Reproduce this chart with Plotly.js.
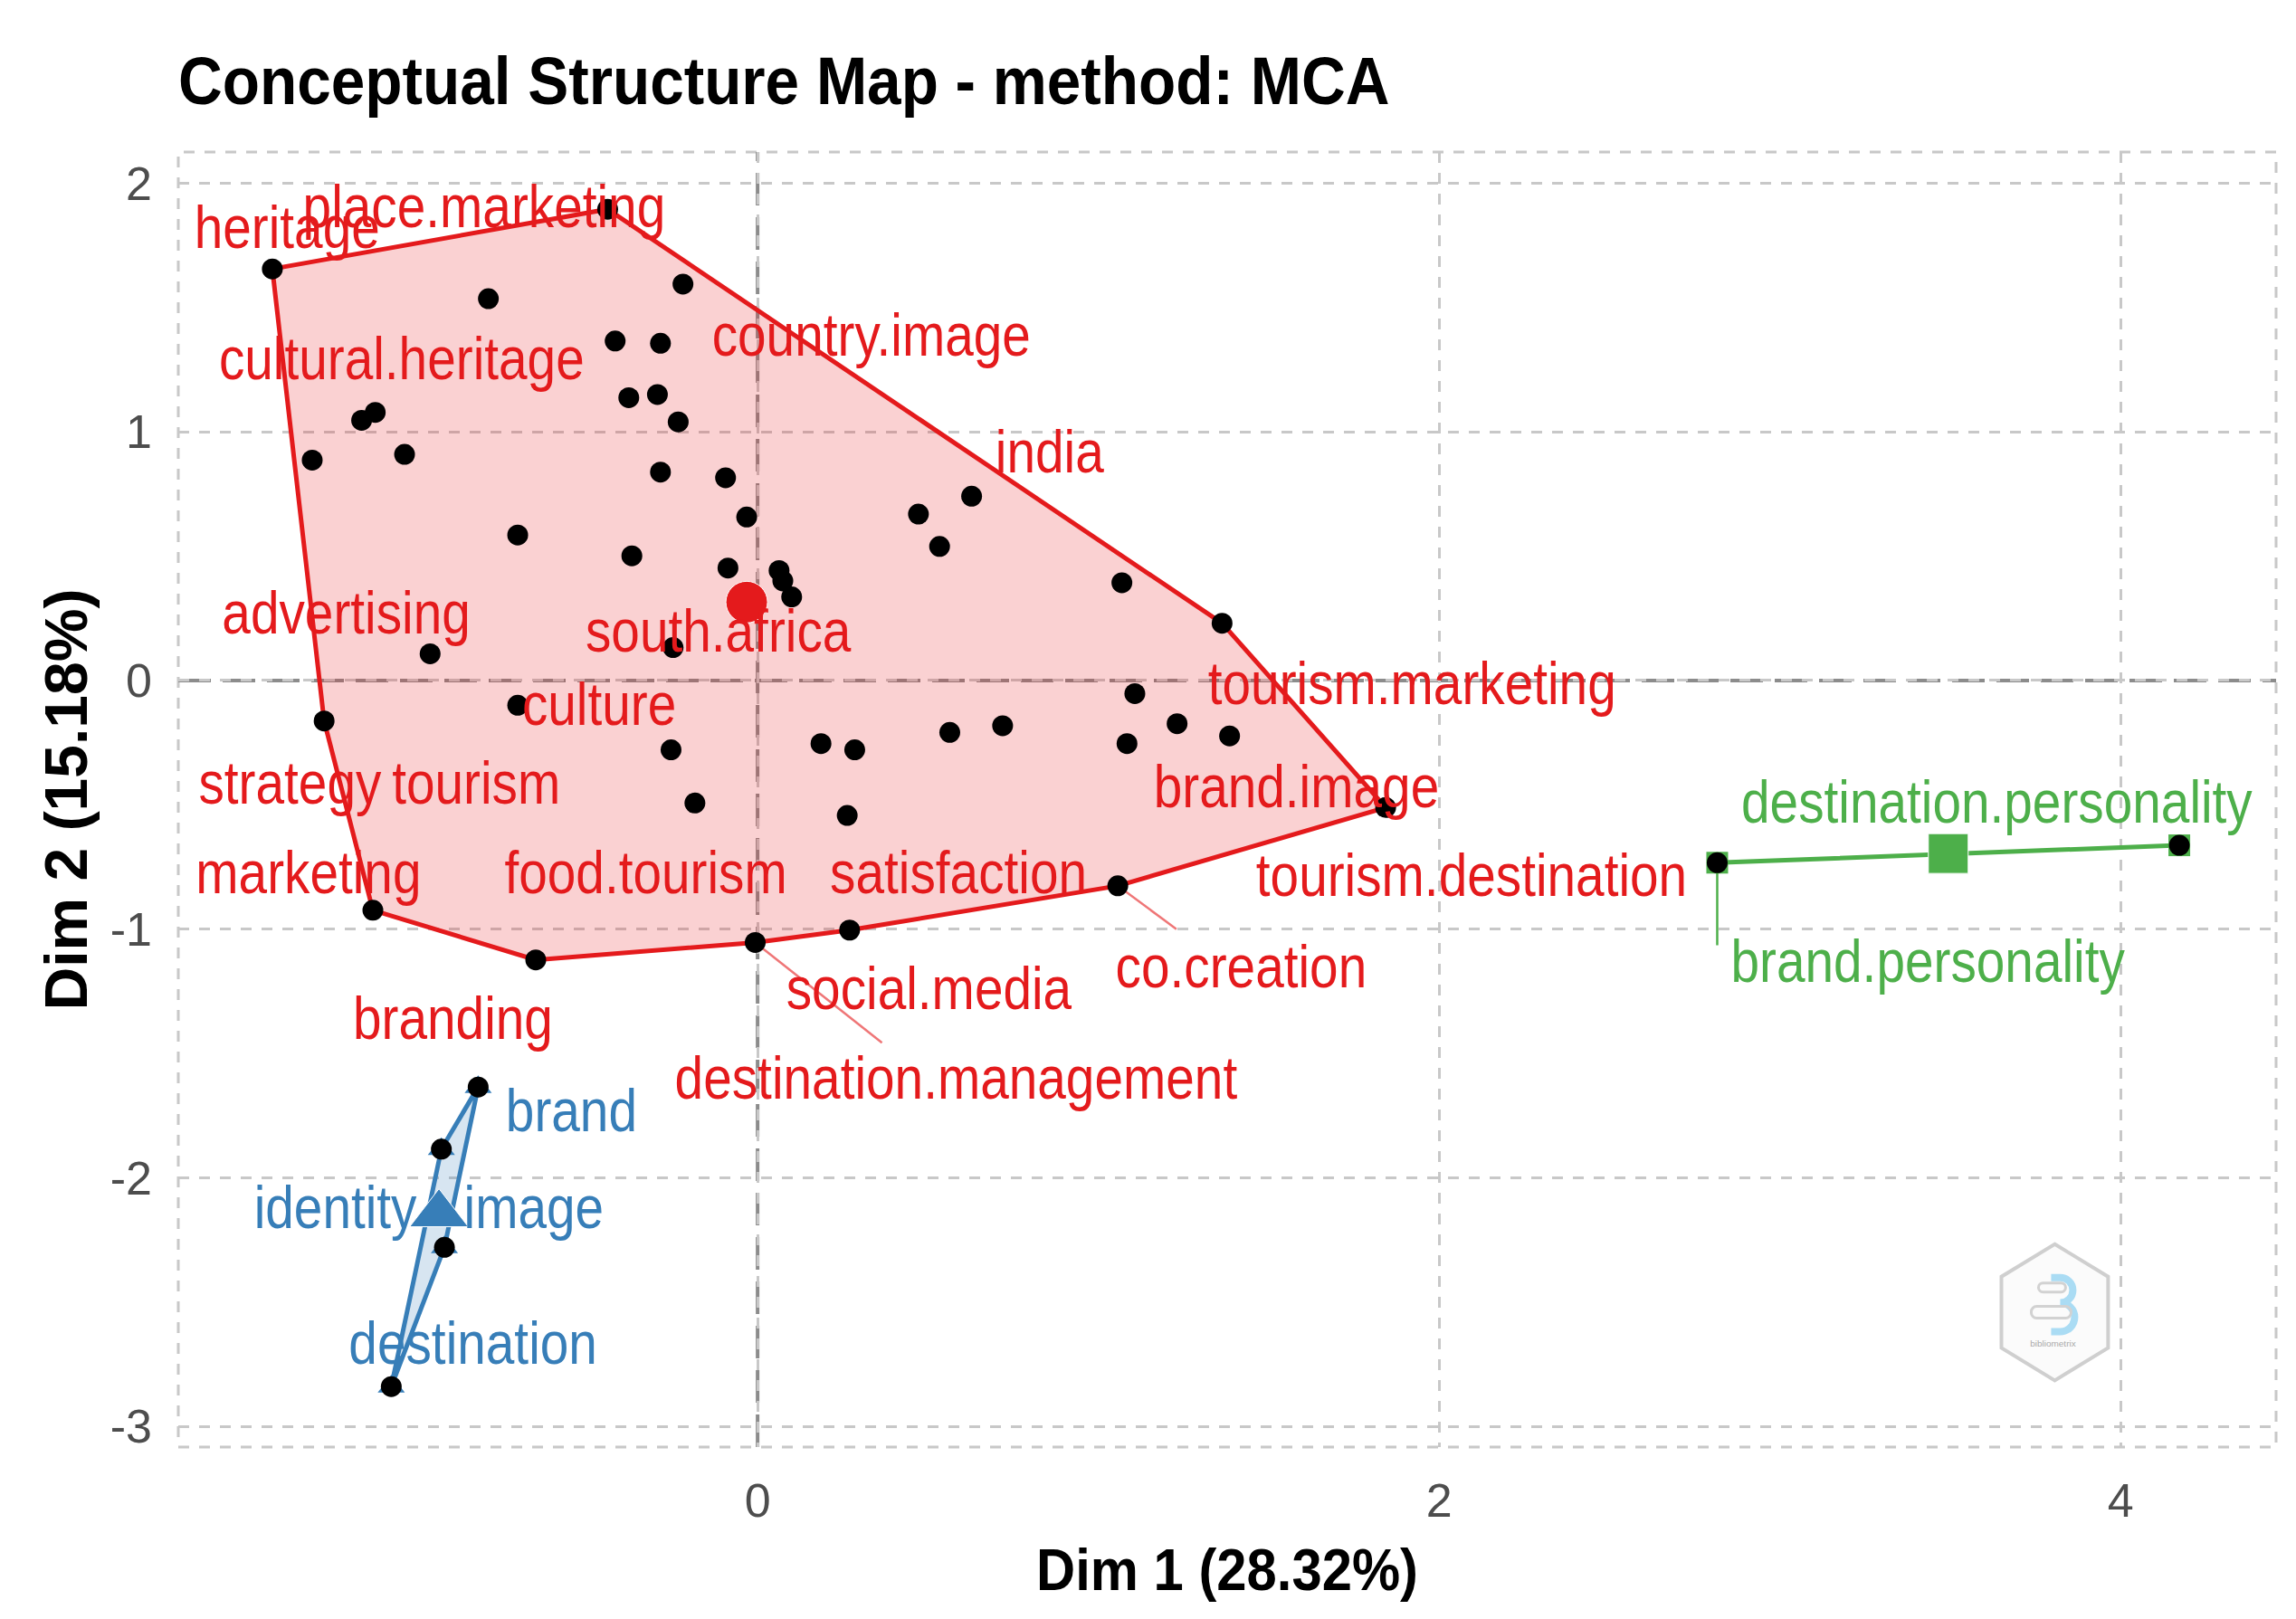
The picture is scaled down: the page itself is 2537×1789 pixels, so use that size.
<!DOCTYPE html>
<html>
<head>
<meta charset="utf-8">
<script src="https://cdn.plot.ly/plotly-3.0.1.min.js"></script>
<style>
html,body{margin:0;padding:0;background:#ffffff;overflow:hidden;}
#chart{width:2537px;height:1789px;}
/* the reference typography is slightly condensed */
#chart .annotation-text{transform:scaleX(0.86);transform-box:fill-box;transform-origin:50% 50%;}
#chart .gtitle{transform:scaleX(0.9);transform-box:fill-box;transform-origin:0% 50%;}
#chart .xtitle{transform:scaleX(0.92);transform-box:fill-box;transform-origin:50% 50%;}
</style>
</head>
<body>
<div id="chart"></div>
<script>
// ---------------- data ----------------
// Cluster 1 (red) word coordinates
const redX = [-1.424,-0.440,-0.219,-0.790,-0.418,-0.285,-0.378,-0.294,-0.233,-1.162,
              -1.122,-1.307,-1.036,-0.285,-0.094,-0.032,0.472,0.628,0.534,-0.704,
              -0.369,-0.087,0.063,0.074,0.100,1.069,-0.961,-0.248,-1.272,-0.704,
              -0.254,0.186,0.285,0.564,0.719,1.084,1.107,1.363,1.231,1.385,
              1.843,-0.184,0.263,-1.129,-0.651,-0.007,0.270,1.057];
const redY = [1.655,1.895,1.594,1.535,1.365,1.356,1.137,1.150,1.040,1.046,
              1.078,0.886,0.909,0.838,0.815,0.657,0.669,0.741,0.539,0.585,
              0.501,0.452,0.442,0.400,0.336,0.393,0.107,0.132,-0.163,-0.100,
              -0.279,-0.254,-0.279,-0.209,-0.182,-0.254,-0.053,0.230,-0.174,-0.223,
              -0.511,-0.493,-0.543,-0.924,-1.124,-1.054,-1.004,-0.826];
// Cluster 2 (blue)
const blueX = [-0.820,-0.928,-0.919,-1.075];
const blueY = [-1.635,-1.885,-2.280,-2.840];
// Cluster 3 (green)
const greenX = [2.816,4.172];
const greenY = [-0.733,-0.663];
// Cluster centroids
const centroidX = [-0.032,-0.935,3.494];
const centroidY = [0.315,-2.146,-0.696];

// Word labels (placed by the original label-repel step)
const redLabels = ['heritage','place.marketing','cultural.heritage','country.image','india',
                   'advertising','south.africa','culture','strategy','tourism',
                   'tourism.marketing','brand.image','marketing','food.tourism','satisfaction',
                   'tourism.destination','co.creation','social.media','branding','destination.management'];
const redLabelX = [-1.380,-0.803,-1.043,0.334,0.858,-1.208,-0.116,-0.465,-1.373,-0.827,
                   1.920,1.582,-1.318,-0.329,0.589,2.095,1.420,0.503,-0.895,0.582];
const redLabelY = [1.822,1.906,1.295,1.390,0.920,0.273,0.199,-0.095,-0.411,-0.411,
                   -0.011,-0.426,-0.772,-0.772,-0.772,-0.783,-1.152,-1.239,-1.359,-1.598];
const blueLabels = ['brand','identity','image','destination'];
const blueLabelX = [-0.547,-1.239,-0.655,-0.836];
const blueLabelY = [-1.728,-2.120,-2.120,-2.663];
const greenLabels = ['destination.personality','brand.personality'];
const greenLabelX = [3.637,3.433];
const greenLabelY = [-0.489,-1.130];

// Label connector segments
const segRedX0 = [-0.007,1.057];
const segRedY0 = [-1.054,-0.826];
const segRedX1 = [0.365,1.229];
const segRedY1 = [-1.457,-1.000];
const segGreenX0 = [2.816];
const segGreenY0 = [-0.733];
const segGreenX1 = [2.816];
const segGreenY1 = [-1.065];

// Axis ticks
const xTicks = [0,2,4];
const yTicks = [-3,-2,-1,0,1,2];

// ---------------- styling ----------------
const RED = '#e41a1c', BLUE = '#377eb8', GREEN = '#4daf4a';
const SANS = '"Liberation Sans", Arial, Helvetica, sans-serif';

function convexHull(xs, ys) {
  const pts = xs.map((x, i) => [x, ys[i]]).sort((a, b) => a[0] - b[0] || a[1] - b[1]);
  if (pts.length < 3) return pts.concat([pts[0]]);
  const cross = (o, a, b) => (a[0]-o[0])*(b[1]-o[1]) - (a[1]-o[1])*(b[0]-o[0]);
  const lower = [];
  for (const p of pts) {
    while (lower.length >= 2 && cross(lower[lower.length-2], lower[lower.length-1], p) <= 0) lower.pop();
    lower.push(p);
  }
  const upper = [];
  for (const p of pts.slice().reverse()) {
    while (upper.length >= 2 && cross(upper[upper.length-2], upper[upper.length-1], p) <= 0) upper.pop();
    upper.push(p);
  }
  upper.pop(); lower.pop();
  const h = lower.concat(upper);
  h.push(h[0]);
  return h;
}

function hullTrace(xs, ys, color, fill) {
  const h = convexHull(xs, ys);
  return {
    type: 'scatter', mode: 'lines',
    x: h.map(p => p[0]), y: h.map(p => p[1]),
    fill: 'toself', fillcolor: fill,
    line: {color: color, width: 5},
    hoverinfo: 'skip'
  };
}

function segTrace(x0, y0, x1, y1, color) {
  const x = [], y = [];
  for (let i = 0; i < x0.length; i++) { x.push(x0[i], x1[i], null); y.push(y0[i], y1[i], null); }
  return {type: 'scatter', mode: 'lines', x: x, y: y, line: {color: color, width: 2.5}, hoverinfo: 'skip'};
}

const traces = [
  hullTrace(redX, redY, RED, 'rgba(228,26,28,0.2)'),
  hullTrace(blueX, blueY, BLUE, 'rgba(55,126,184,0.2)'),
  hullTrace(greenX, greenY, GREEN, 'rgba(77,175,74,0.2)'),
  segTrace(segRedX0, segRedY0, segRedX1, segRedY1, 'rgba(228,26,28,0.6)'),
  segTrace(segGreenX0, segGreenY0, segGreenX1, segGreenY1, GREEN),
  {type: 'scatter', mode: 'markers', x: blueX, y: blueY,
   marker: {symbol: 'triangle-up', size: 26, color: BLUE, opacity: 1}, hoverinfo: 'skip'},
  {type: 'scatter', mode: 'markers', x: greenX, y: greenY,
   marker: {symbol: 'square', size: 24, color: GREEN, opacity: 1}, hoverinfo: 'skip'},
  {type: 'scatter', mode: 'markers', x: redX.concat(blueX, greenX), y: redY.concat(blueY, greenY),
   marker: {symbol: 'circle', size: 23, color: '#000000', opacity: 1}},
  {type: 'scatter', mode: 'markers', x: centroidX, y: centroidY,
   marker: {symbol: ['circle', 'triangle-up', 'square'], size: [46, 56, 44],
            color: [RED, BLUE, GREEN], opacity: 1}}
];

const annotations = [];
function addLabels(words, xs, ys, color) {
  words.forEach((w, i) => annotations.push({
    x: xs[i], y: ys[i], xref: 'x', yref: 'y', text: w, showarrow: false,
    xanchor: 'center', yanchor: 'middle',
    font: {family: SANS, size: 66, color: color}
  }));
}
addLabels(redLabels, redLabelX, redLabelY, RED);
addLabels(blueLabels, blueLabelX, blueLabelY, BLUE);
addLabels(greenLabels, greenLabelX, greenLabelY, GREEN);

const logoSvg = "<svg xmlns='http://www.w3.org/2000/svg' width='124' height='157' viewBox='0 0 124 157'>" +
  "<polygon points='62,3 121,39 121,118 62,154 3,118 3,39' fill='#fbfbfb' stroke='#cfcfcf' stroke-width='4'/>" +
  "<path d='M58,40 h10 a14,14 0 0 1 0,28 a16,16 0 0 1 0,32 h-10' fill='none' stroke='#aadcf4' stroke-width='8'/>" +
  "<rect x='44' y='46' width='30' height='10' rx='5' fill='none' stroke='#d2d2d2' stroke-width='3'/>" +
  "<rect x='36' y='72' width='44' height='13' rx='6' fill='none' stroke='#d2d2d2' stroke-width='3'/>" +
  "<text x='60' y='117' font-size='10' font-family='Arial' fill='#aaaaaa' text-anchor='middle'>bibliometrix</text>" +
  "</svg>";

const GRID = '#c8c8c8';
const layout = {
  width: 2537, height: 1789,
  margin: {l: 197, r: 22, t: 168, b: 190, pad: 0},
  paper_bgcolor: '#ffffff', plot_bgcolor: '#ffffff',
  showlegend: false,
  title: {
    text: 'Conceptual Structure Map - method: MCA',
    font: {family: SANS, size: 75, color: '#000000', weight: 'bold'},
    xref: 'paper', x: 0, xanchor: 'left',
    yref: 'container', y: 1 - 63/1789, yanchor: 'top'
  },
  xaxis: {
    range: [-1.700, 4.456], tickvals: xTicks, ticktext: xTicks.map(String),
    showgrid: true, gridcolor: GRID, gridwidth: 3, griddash: '12px,11px',
    zeroline: false, showline: false, ticks: '', ticklabelstandoff: 24,
    tickfont: {family: SANS, size: 52, color: '#4d4d4d'},
    title: {text: 'Dim 1 (28.32%)', font: {family: SANS, size: 65, color: '#000000', weight: 'bold'}, standoff: 25},
    automargin: false
  },
  yaxis: {
    range: [-3.083, 2.125], tickvals: yTicks, ticktext: yTicks.map(String),
    showgrid: true, gridcolor: GRID, gridwidth: 3, griddash: '12px,11px',
    zeroline: false, showline: false, ticks: '', ticklabelstandoff: 28,
    tickfont: {family: SANS, size: 52, color: '#4d4d4d'},
    title: {text: 'Dim 2 (15.18%)', font: {family: SANS, size: 66, color: '#000000', weight: 'bold'}, standoff: 3},
    automargin: false
  },
  shapes: [
    {type: 'rect', xref: 'paper', yref: 'paper', x0: 0, x1: 1, y0: 0, y1: 1,
     line: {color: GRID, width: 3, dash: '12px,11px'}, layer: 'below'},
    {type: 'line', xref: 'x', yref: 'paper', x0: 0, x1: 0, y0: 0, y1: 1,
     line: {color: '#8c8c8c', width: 4, dash: '36px,13px'}, layer: 'between'},
    {type: 'line', xref: 'paper', yref: 'y', x0: 0, x1: 1, y0: 0, y1: 0,
     line: {color: '#8c8c8c', width: 4, dash: '36px,13px'}, layer: 'between'}
  ],
  images: [{
    source: 'data:image/svg+xml;charset=utf-8,' + encodeURIComponent(logoSvg),
    xref: 'x', yref: 'y', x: 3.642, y: -2.256, sizex: 0.329, sizey: 0.570,
    xanchor: 'left', yanchor: 'top', sizing: 'stretch', layer: 'above'
  }],
  annotations: annotations
};

Plotly.newPlot('chart', traces, layout, {staticPlot: true, displayModeBar: false});
</script>
</body>
</html>
